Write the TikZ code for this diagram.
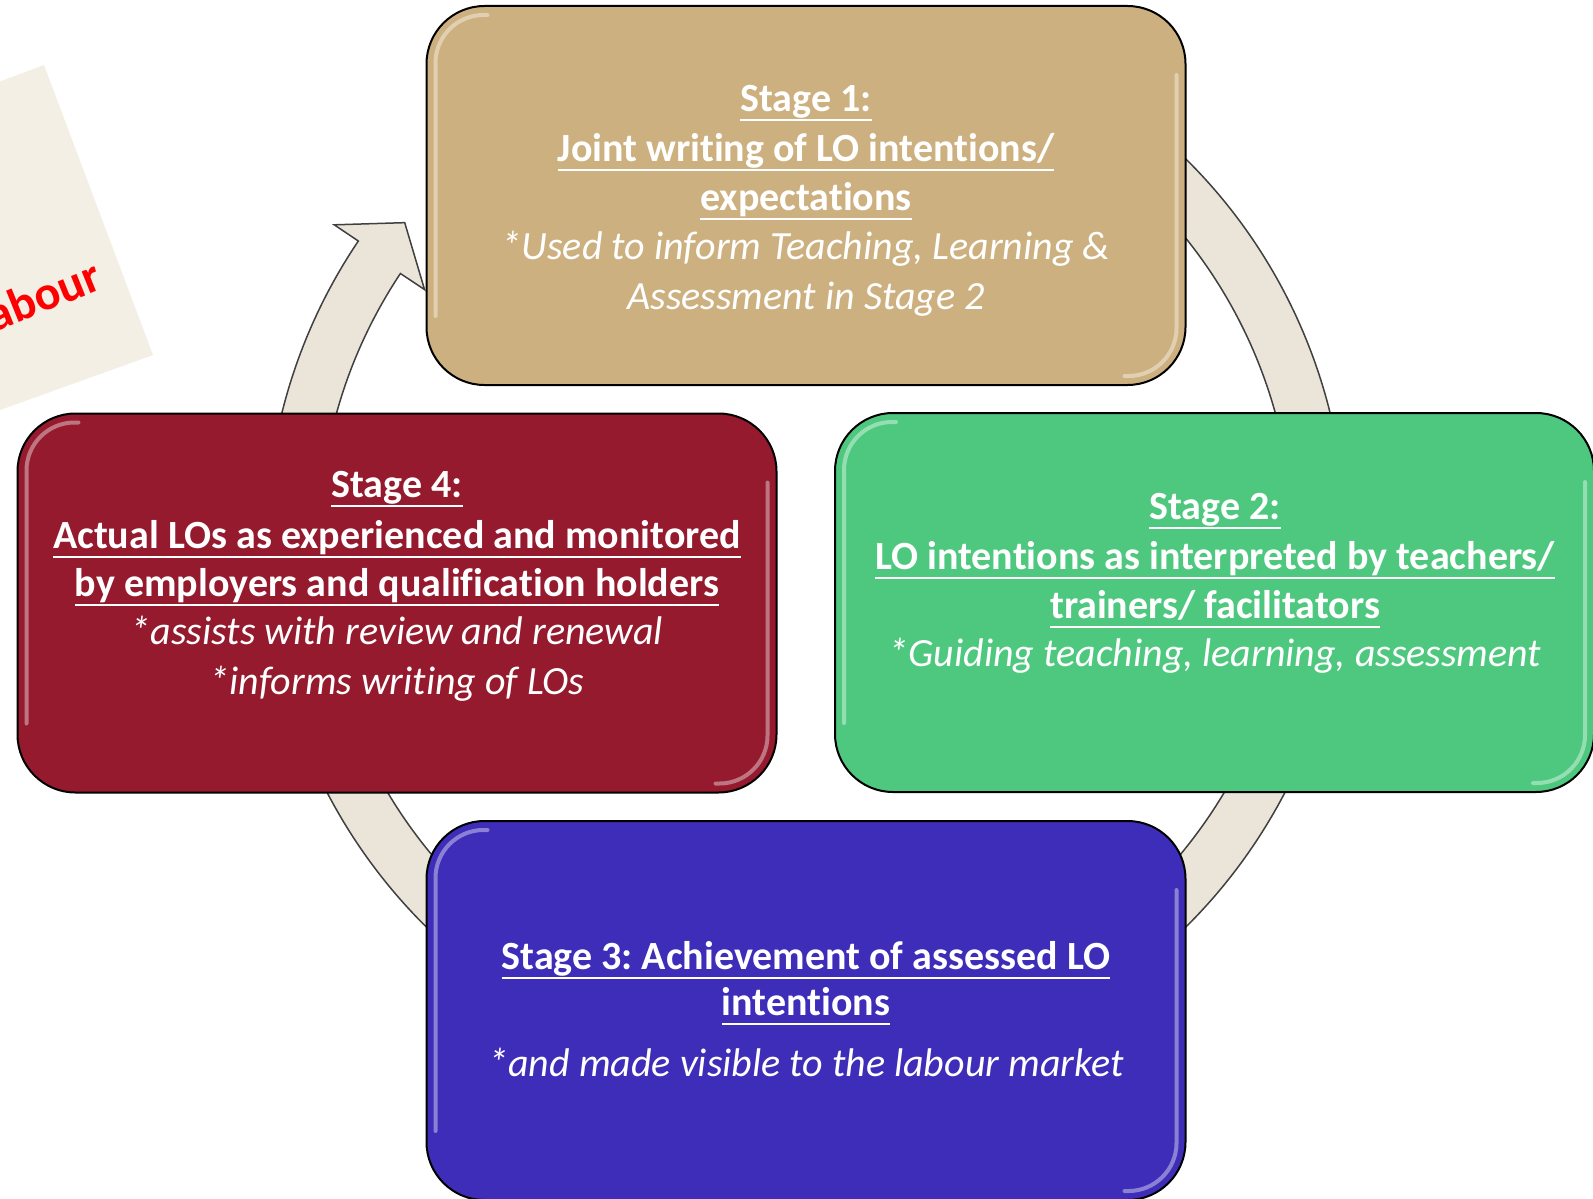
\documentclass[tikz,border=0pt]{standalone}
\usepackage{fontspec}
\setmainfont{Carlito}[Ligatures={NoCommon,NoContextual}]
\frenchspacing
\newsavebox\ulbox
\newcommand{\myul}[1]{\sbox{\ulbox}{#1}\rlap{\vrule height -7.5pt depth 10pt width \wd\ulbox}\usebox{\ulbox}}
\definecolor{tanbox}{HTML}{CDB07F}
\definecolor{redbox}{HTML}{951A2E}
\definecolor{greenbox}{HTML}{4FC87F}
\definecolor{bluebox}{HTML}{3E2DB8}
\definecolor{ringfill}{HTML}{EBE4D8}
\definecolor{ringline}{HTML}{404040}
\definecolor{notefill}{HTML}{F3EFE4}
\definecolor{notered}{HTML}{FF0000}
\begin{document}
\begin{tikzpicture}[x=1pt,y=-1pt,
  box/.style={draw=black, line width=2pt, rounded corners=58pt, minimum width=759pt, minimum height=379pt, inner sep=0pt},
  hl/.style={draw=white, draw opacity=0.4, line width=4pt, rounded corners=48pt, line cap=round},
  ringst/.style={fill=ringfill, draw=ringline, line width=1.5pt, line join=miter},
  ttl/.style={text=white, font=\fontsize{40}{49}\selectfont\bfseries, anchor=base, inner sep=0pt},
  itl/.style={text=white, font=\fontsize{40}{49}\selectfont\itshape, anchor=base, inner sep=0pt}]
\useasboundingbox (0,0) rectangle (1593,1199);
\fill[white] (0,0) rectangle (1593,1199);
% note at top left
\fill[notefill] (-100,119) -- (44,65) -- (153,355) -- (-50,428) -- cycle;
\node[text=notered, font=\fontsize{48}{54}\selectfont\bfseries, rotate=22, anchor=base east, inner sep=0pt] (note) at (104,288) {abour};
% ring arrow
\begin{scope}[shift={(806,543)}]
\draw[ringst] (-60:540) arc[start angle=-60, end angle=214, radius=540] -- (214:569) -- (218.6:513.5) -- (213.6:458) -- (213.6:487) arc[start angle=213.6, end angle=-60, radius=487] -- cycle;
\end{scope}
% boxes
\node[box, fill=tanbox] (b1) at (806,195.5) {};
\node[box, fill=greenbox] (b2) at (1214.5,602.5) {};
\node[box, fill=bluebox] (b3) at (806,1010.5) {};
\node[box, fill=redbox] (b4) at (397,603) {};
\foreach \b in {b1,b2,b3,b4}{
  \draw[hl] ([shift={(62,10)}]\b.north west) -- ([shift={(10,10)}]\b.north west) -- ([shift={(10,-70)}]\b.south west);
  \draw[hl] ([shift={(-10,70)}]\b.north east) -- ([shift={(-10,-10)}]\b.south east) -- ([shift={(-62,-10)}]\b.south east);
}
% texts stage 1
\node[ttl] (s1a) at (806,111) {\myul{Stage 1:}};
\node[ttl] (s1b) at (806,161) {\myul{Joint writing of LO intentions/}};
\node[ttl] (s1c) at (806,210) {\myul{expectations}};
\node[itl] (s1d) at (806,259) {*Used to inform Teaching, Learning \&};
\node[itl] (s1e) at (806,309) {Assessment in Stage 2};
% stage 2
\node[ttl] (s2a) at (1215,519) {\myul{Stage 2:}};
\node[ttl] (s2b) at (1215,569) {\myul{LO intentions as interpreted by teachers/}};
\node[ttl] (s2c) at (1215,618) {\myul{trainers/ facilitators}};
\node[itl] (s2d) at (1215,666) {*Guiding teaching, learning, assessment};
% stage 3
\node[ttl] (s3a) at (806,969) {\myul{Stage 3: Achievement of assessed LO}};
\node[ttl] (s3b) at (806,1015) {\myul{intentions}};
\node[itl] (s3c) at (806,1076) {*and made visible to the labour market};
% stage 4
\node[ttl] (s4a) at (397,497) {\myul{Stage 4:}};
\node[ttl] (s4b) at (397,548) {\myul{Actual LOs as experienced and monitored}};
\node[ttl] (s4c) at (397,596) {\myul{by employers and qualification holders}};
\node[itl] (s4d) at (397,644) {*assists with review and renewal};
\node[itl] (s4e) at (397,694) {*informs writing of LOs};
\end{tikzpicture}
\end{document}
